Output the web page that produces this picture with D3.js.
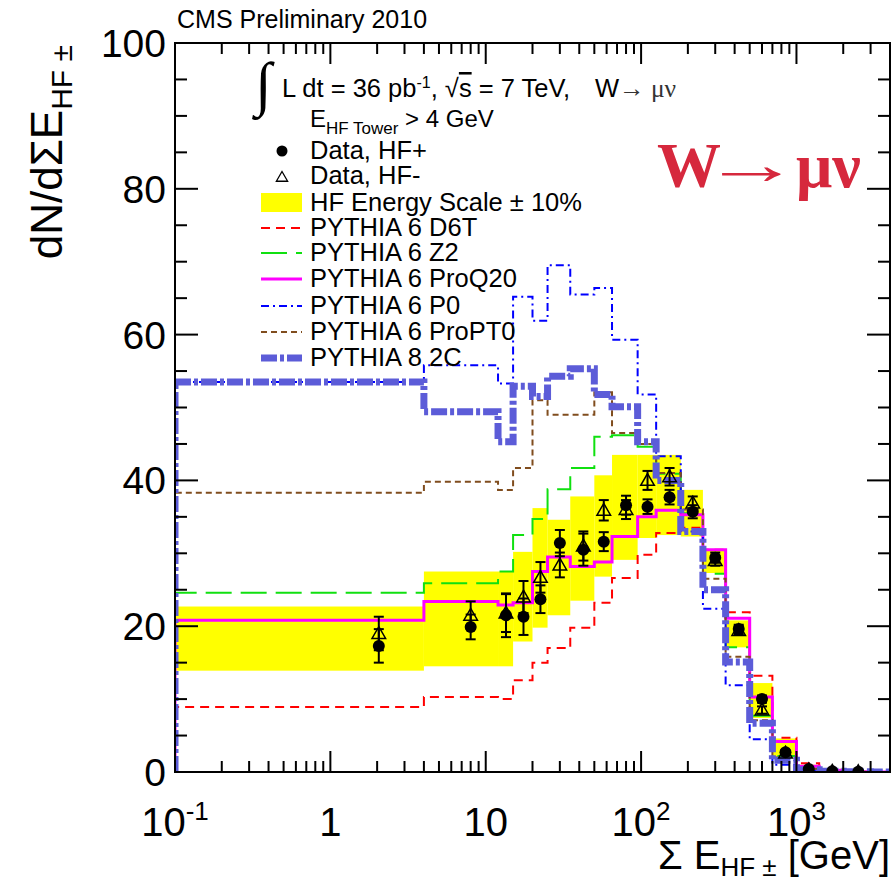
<!DOCTYPE html>
<html>
<head>
<meta charset="utf-8">
<script src="https://cdn.jsdelivr.net/npm/d3@7"></script>
<style>
  body { margin: 0; background: #fff; }
  svg text { font-family: "Liberation Sans", Arial, Helvetica, sans-serif; fill: #000; }
  .serif { font-family: "Liberation Serif", "Times New Roman", serif; }
</style>
</head>
<body>
<div id="chart"></div>
<script>
// ---- data ----
const binEdges = [0.1, 4, 12, 15, 20, 25, 35, 50, 65, 95, 125, 180, 250, 350, 500, 700, 1000, 1400, 2000, 3000, 4000];

// data, HF+ and HF- (19 bins)
const hfPlus     = [17.3, 19.9, 21.5, 21.3, 23.7, 31.4, 30.5, 31.6, 36.6, 36.4, 37.7, 35.7, 29.4, 19.6, 10.0, 2.7, 0.4, 0.1, 0.05];
const hfPlusErr  = [2.3, 1.7, 3.0, 2.5, 1.9, 1.8, 2.2, 1.3, 1.3, 1.0, 1.0, 0.9, 0.7, 0.6, 0.5, 0.3, 0.1, 0.05, 0.03];
const hfMinus    = [19.0, 21.5, 21.8, 24.0, 26.7, 28.4, 31.0, 35.9, 36.0, 40.0, 40.5, 36.9, 29.0, 19.4, 8.5, 2.6, 0.3, 0.1, 0.05];
const hfMinusErr = [2.3, 1.9, 2.6, 2.2, 2.1, 1.7, 2.0, 1.4, 1.3, 1.3, 1.2, 0.9, 0.7, 0.6, 0.5, 0.3, 0.1, 0.05, 0.03];

// HF energy scale +-10% band
const bandLow  = [13.9, 14.5, 14.5, 17.9, 19.8, 21.5, 23.5, 26.8, 29.1, 32.1, 32.5, 32.3, 27.3, 17.1, 7.4, 2.0, 0.2, 0.0, 0.0];
const bandHigh = [22.7, 27.5, 27.5, 30.2, 36.2, 34.6, 37.8, 40.7, 43.5, 43.5, 43.5, 38.7, 30.5, 20.8, 12.2, 4.6, 1.0, 0.3, 0.1];

// MC predictions (20 bins)
const d6t    = [8.9, 10.3, 10.0, 12.6, 15.0, 17.0, 19.8, 23.2, 26.6, 29.8, 32.8, 33.5, 30.5, 21.9, 13.2, 4.7, 1.2, 0.3, 0.1, 0];
const z2     = [24.6, 25.9, 27.5, 32.5, 34.7, 38.8, 41.7, 46.0, 46.2, 44.6, 40.9, 35.5, 27.2, 17.1, 7.7, 2.2, 0.5, 0.1, 0.02, 0];
const proQ20 = [20.8, 23.4, 22.9, 23.2, 27.5, 29.5, 28.2, 28.8, 32.3, 35.0, 35.9, 35.3, 30.5, 21.1, 10.3, 4.2, 0.8, 0.2, 0.05, 0];
const p0     = [53.5, 55.8, 53.3, 65.2, 61.9, 69.5, 65.5, 66.4, 59.3, 51.8, 43.3, 33.0, 22.4, 11.9, 4.5, 1.0, 0.2, 0.05, 0.01, 0];
const proPT0 = [38.3, 39.8, 38.7, 41.7, 51.0, 49.0, 49.0, 52.1, 46.5, 45.0, 41.0, 36.0, 26.5, 15.8, 7.1, 2.0, 0.4, 0.1, 0.02, 0];
const py8_2c = [53.5, 49.4, 45.3, 52.9, 51.5, 54.3, 55.3, 51.8, 50.1, 45.3, 40.0, 33.0, 25.0, 15.1, 6.7, 1.6, 0.3, 0.1, 0.02, 0];

const yTickLabels = ["0", "20", "40", "60", "80", "100"];
const xTickLabels = [["10", "-1"], ["1", ""], ["10", ""], ["10", "2"], ["10", "3"]];
const legendLabels = ["PYTHIA 6 D6T", "PYTHIA 6 Z2", "PYTHIA 6 ProQ20", "PYTHIA 6 P0", "PYTHIA 6 ProPT0", "PYTHIA 8 2C"];

// ---- chart ----
const W = 894, H = 883;
const frame = {left: 175, right: 890, top: 43, bottom: 772};

const svg = d3.select("#chart").append("svg")
  .attr("width", W).attr("height", H);

const x = d3.scaleLog().domain([0.1, 4000]).range([frame.left, frame.right]);
const y = d3.scaleLinear().domain([0, 100]).range([frame.bottom, frame.top]);

svg.append("defs").append("clipPath").attr("id", "clip")
  .append("rect")
  .attr("x", frame.left).attr("y", frame.top)
  .attr("width", frame.right - frame.left).attr("height", frame.bottom - frame.top);

const plot = svg.append("g").attr("clip-path", "url(#clip)");

// yellow band
plot.selectAll("rect.band")
  .data(bandLow)
  .enter().append("rect")
  .attr("class", "band")
  .attr("x", (d, i) => x(binEdges[i]))
  .attr("width", (d, i) => x(binEdges[i + 1]) - x(binEdges[i]))
  .attr("y", (d, i) => y(bandHigh[i]))
  .attr("height", (d, i) => y(d) - y(bandHigh[i]))
  .attr("fill", "#ffff00");

const styles = [
  {values: d6t,    color: "#ff0000", width: 2, dash: "9,6"},
  {values: z2,     color: "#10e010", width: 2, dash: "26,9"},
  {values: proQ20, color: "#ff00ff", width: 3, dash: null},
  {values: p0,     color: "#0000ff", width: 2, dash: "8,4,2,4"},
  {values: proPT0, color: "#804d1e", width: 2, dash: "6,4"},
  {values: py8_2c, color: "#5c5cd8", width: 7, dash: "16,3,4,3"}
];

function stepPoints(vals) {
  let pts = [[binEdges[0], 0]];
  vals.forEach(function(v, i) {
    pts.push([binEdges[i], v]);
    pts.push([binEdges[i + 1], v]);
  });
  pts.push([binEdges[vals.length], 0]);
  return pts;
}

const line = d3.line().x(d => x(d[0])).y(d => y(d[1]));

styles.forEach(function(s) {
  plot.append("path")
    .attr("d", line(stepPoints(s.values)))
    .attr("fill", "none")
    .attr("stroke", s.color)
    .attr("stroke-width", s.width)
    .attr("stroke-dasharray", s.dash);
});

// data points
const centers = hfPlus.map((d, i) => (binEdges[i] + binEdges[i + 1]) / 2);

function errorBars(vals, errs) {
  const g = plot.append("g").attr("stroke", "#000").attr("stroke-width", 2);
  vals.forEach(function(v, i) {
    const cx = x(centers[i]);
    g.append("line").attr("x1", cx).attr("x2", cx).attr("y1", y(v - errs[i])).attr("y2", y(v + errs[i]));
    [v - errs[i], v + errs[i]].forEach(function(e) {
      g.append("line").attr("x1", cx - 5).attr("x2", cx + 5).attr("y1", y(e)).attr("y2", y(e));
    });
  });
}

errorBars(hfMinus, hfMinusErr);
errorBars(hfPlus, hfPlusErr);

plot.selectAll("path.tri")
  .data(hfMinus)
  .enter().append("path")
  .attr("class", "tri")
  .attr("d", d3.symbol(d3.symbolTriangle, 80))
  .attr("transform", (d, i) => "translate(" + x(centers[i]) + "," + (y(d) + 1) + ")")
  .attr("fill", "none")
  .attr("stroke", "#000")
  .attr("stroke-width", 1.5);

plot.selectAll("circle.dot")
  .data(hfPlus)
  .enter().append("circle")
  .attr("class", "dot")
  .attr("cx", (d, i) => x(centers[i]))
  .attr("cy", d => y(d))
  .attr("r", 6)
  .attr("fill", "#000");

// frame and ticks
const axes = svg.append("g").attr("stroke", "#000").attr("stroke-width", 2);
axes.append("rect")
  .attr("x", frame.left).attr("y", frame.top)
  .attr("width", frame.right - frame.left).attr("height", frame.bottom - frame.top)
  .attr("fill", "none");

x.ticks().forEach(function(t) {
  const major = Math.abs(Math.log10(t) - Math.round(Math.log10(t))) < 1e-6;
  const len = major ? 21 : 11;
  const px = x(t);
  if (px <= frame.left + 1 || px >= frame.right - 1) return;
  axes.append("line").attr("x1", px).attr("x2", px).attr("y1", frame.bottom).attr("y2", frame.bottom - len);
  axes.append("line").attr("x1", px).attr("x2", px).attr("y1", frame.top).attr("y2", frame.top + len);
});

d3.range(5, 100, 5).forEach(function(t) {
  const len = t % 20 === 0 ? 23 : 12;
  const py = y(t);
  axes.append("line").attr("x1", frame.left).attr("x2", frame.left + len).attr("y1", py).attr("y2", py);
  axes.append("line").attr("x1", frame.right).attr("x2", frame.right - len).attr("y1", py).attr("y2", py);
});

// tick labels
yTickLabels.forEach(function(lbl) {
  svg.append("text")
    .attr("x", 166).attr("y", y(+lbl) + 14)
    .attr("text-anchor", "end")
    .style("font-size", "39px")
    .text(lbl);
});

[0.1, 1, 10, 100, 1000].forEach(function(v, i) {
  const t = svg.append("text")
    .attr("x", x(v)).attr("y", 836)
    .attr("text-anchor", "middle")
    .style("font-size", "40px");
  t.append("tspan").text(xTickLabels[i][0]);
  if (xTickLabels[i][1]) {
    t.append("tspan").attr("dy", -16).style("font-size", "26px").text(xTickLabels[i][1]);
  }
});

// axis titles
const xt = svg.append("text")
  .attr("x", 890).attr("y", 869)
  .attr("text-anchor", "end")
  .style("font-size", "40px");
xt.append("tspan").text("\u03A3 E");
xt.append("tspan").attr("dy", 7).style("font-size", "26px").text("HF \u00B1");
xt.append("tspan").attr("dy", -7).text(" [GeV]");

const yt = svg.append("text")
  .attr("transform", "translate(62,45) rotate(-90)")
  .attr("text-anchor", "end")
  .style("font-size", "44px");
yt.append("tspan").text("dN/d\u03A3E");
yt.append("tspan").attr("dy", 10).style("font-size", "30px").text("HF \u00B1");

// header
svg.append("text")
  .attr("x", 177).attr("y", 28)
  .style("font-size", "25px")
  .text("CMS Preliminary 2010");

// legend
svg.append("text")
  .attr("class", "serif")
  .attr("x", 255).attr("y", 104)
  .style("font-size", "60px")
  .style("font-weight", "300")
  .text("\u222B");

const lum = svg.append("text")
  .attr("x", 282).attr("y", 97)
  .style("font-size", "25.5px");
lum.append("tspan").text("L dt = 36 pb");
lum.append("tspan").attr("dy", -9).style("font-size", "16px").text("-1");
lum.append("tspan").attr("dy", 9).text(", \u221A");
lum.append("tspan").style("text-decoration", "overline").text("s");
lum.append("tspan").text(" = 7 TeV,");
lum.append("tspan").attr("x", 595).text("W");
lum.append("tspan").attr("class", "serif").style("fill", "#333").text("\u2192 \u03BC\u03BD");

const cut = svg.append("text")
  .attr("x", 310).attr("y", 127)
  .style("font-size", "24px");
cut.append("tspan").text("E");
cut.append("tspan").attr("dy", 7).style("font-size", "17px").text("HF Tower");
cut.append("tspan").attr("dy", -7).text(" > 4 GeV");

svg.append("circle").attr("cx", 282).attr("cy", 151).attr("r", 5.5).attr("fill", "#000");
svg.append("text").attr("x", 310).attr("y", 159).style("font-size", "25.5px").text("Data, HF+");

svg.append("path")
  .attr("d", d3.symbol(d3.symbolTriangle, 55))
  .attr("transform", "translate(282,178)")
  .attr("fill", "none").attr("stroke", "#000").attr("stroke-width", 1.3);
svg.append("text").attr("x", 310).attr("y", 184).style("font-size", "25.5px").text("Data, HF-");

svg.append("rect").attr("x", 261).attr("y", 193).attr("width", 41).attr("height", 19).attr("fill", "#ffff00");
svg.append("text").attr("x", 310).attr("y", 211).style("font-size", "25.5px").text("HF Energy Scale \u00B1 10%");

const legendY = [228, 253, 279, 306, 332, 358];
styles.forEach(function(s, i) {
  svg.append("line")
    .attr("x1", 261).attr("x2", 302)
    .attr("y1", legendY[i]).attr("y2", legendY[i])
    .attr("stroke", s.color)
    .attr("stroke-width", s.width)
    .attr("stroke-dasharray", s.dash);
  svg.append("text")
    .attr("x", 310).attr("y", legendY[i] + 8)
    .style("font-size", "25.5px")
    .text(legendLabels[i]);
});

// channel label
const red = "#d6283d";
svg.append("text")
  .attr("class", "serif")
  .attr("x", 657).attr("y", 187)
  .style("font-size", "64px")
  .style("font-weight", "bold")
  .style("fill", red)
  .text("W");
svg.append("text")
  .attr("class", "serif")
  .attr("transform", "translate(702,184) scale(1.7,1)")
  .style("font-size", "58px")
  .style("font-weight", "bold")
  .style("fill", red)
  .text("\u2192");
svg.append("text")
  .attr("class", "serif")
  .attr("x", 796).attr("y", 187)
  .style("font-size", "64px")
  .style("font-weight", "bold")
  .style("fill", red)
  .text("\u03BC\u03BD");
</script>
</body>
</html>
